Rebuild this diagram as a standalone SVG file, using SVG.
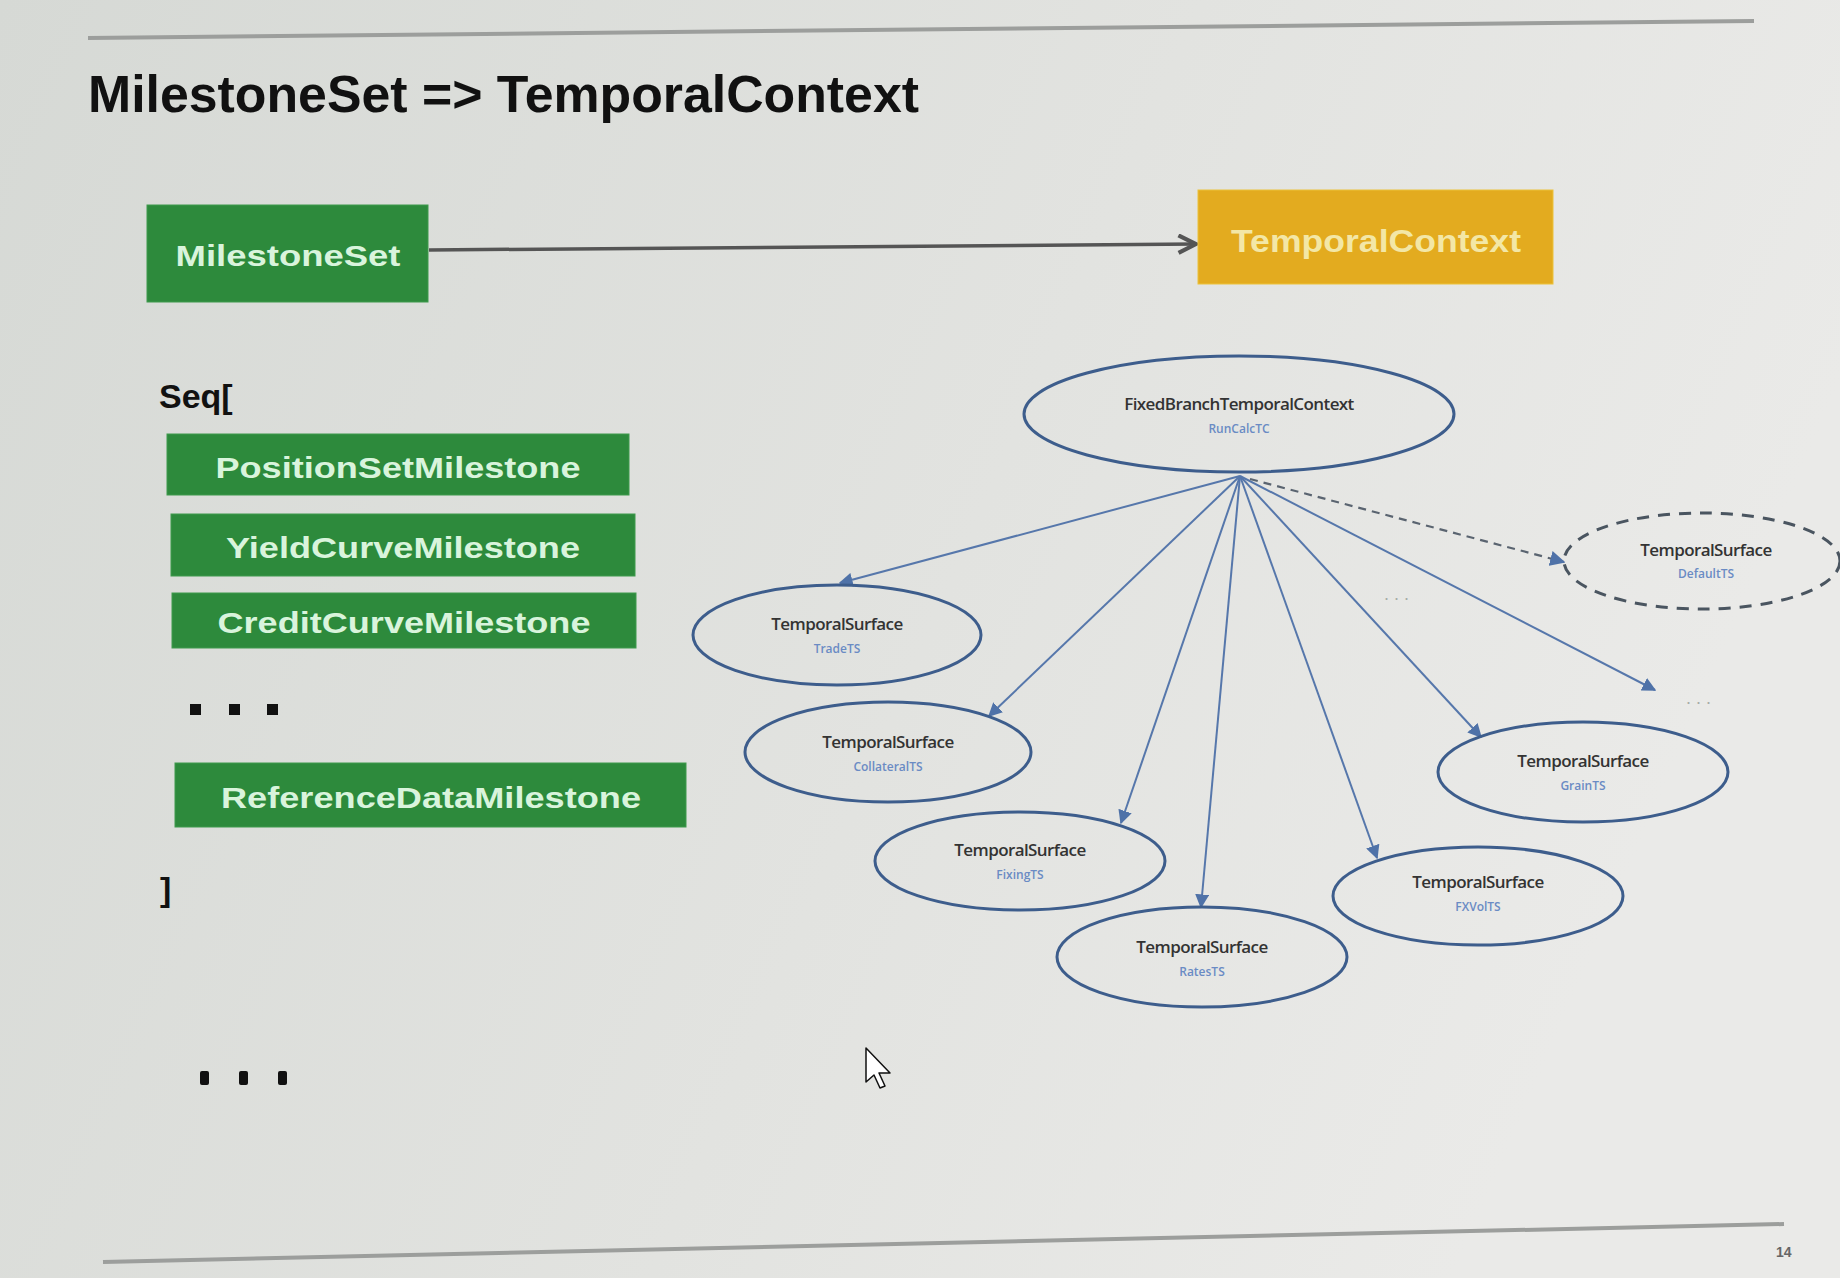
<svg xmlns="http://www.w3.org/2000/svg" width="1840" height="1278" viewBox="0 0 1840 1278">
  <defs>
    <linearGradient id="bg" x1="0" y1="0" x2="1" y2="0.3">
      <stop offset="0" stop-color="#d6d9d5"/>
      <stop offset="0.6" stop-color="#e2e3e0"/>
      <stop offset="1" stop-color="#eaeae8"/>
    </linearGradient>
    <marker id="head" viewBox="0 0 10 10" refX="9" refY="5" markerWidth="7" markerHeight="7" orient="auto" markerUnits="strokeWidth">
      <path d="M0,0 L10,5 L0,10 Z" fill="#4f72a8"/>
    </marker>
    <marker id="vhead" viewBox="0 0 12 12" refX="11" refY="6" markerWidth="6" markerHeight="6" orient="auto" markerUnits="strokeWidth">
      <path d="M1,1 L11,6 L1,11" fill="none" stroke="#555" stroke-width="2.4"/>
    </marker>
    <style>
      .title { font-family: "Liberation Sans", Arial, sans-serif; font-weight: bold; fill: #111; }
      .gbox { fill: #2d8a3c; stroke: #3f9a4c; stroke-width: 1; }
      .gtxt { font-family: "Liberation Sans", Arial, sans-serif; font-weight: bold; font-size: 30px; fill: #d9f4dc; text-anchor: middle; }
      .ell { fill: none; stroke: #3d5d8c; stroke-width: 3; }
      .ell-dash { fill: none; stroke: #4a5560; stroke-width: 3; stroke-dasharray: 12 9; }
      .name { font-family: "Open Sans", "Liberation Sans", sans-serif; font-size: 17px; font-weight: 600; fill: #333; text-anchor: middle; letter-spacing: -0.6px; }
      .sub { font-family: "Open Sans", "Liberation Sans", sans-serif; font-size: 12px; font-weight: 600; fill: #6a8bc4; text-anchor: middle; }
      .edge { fill: none; stroke: #5677ab; stroke-width: 2; marker-end: url(#head); }
      .edge-dash { fill: none; stroke: #5a6470; stroke-width: 2.2; stroke-dasharray: 8 6; marker-end: url(#head); }
      .dots { font-family: "Liberation Sans", Arial, sans-serif; font-size: 18px; fill: #a8aca8; }
      .rule { stroke: #9c9e9c; stroke-width: 4; }
    </style>
  </defs>

  <!-- slide background -->
  <rect x="0" y="0" width="1840" height="1278" fill="url(#bg)"/>

  <!-- header / footer rules -->
  <line class="rule" x1="88" y1="38" x2="1754" y2="21"/>
  <line class="rule" x1="103" y1="1262" x2="1784" y2="1224"/>
  <text x="1776" y="1257" font-family="Liberation Sans, Arial, sans-serif" font-size="14" font-weight="bold" fill="#666">14</text>

  <!-- title -->
  <text class="title" x="88" y="112" font-size="52" textLength="831" lengthAdjust="spacingAndGlyphs">MilestoneSet =&gt; TemporalContext</text>

  <!-- connectors -->
  <g id="connectors">
    <line x1="429" y1="250" x2="1196" y2="244" stroke="#555" stroke-width="3.5" marker-end="url(#vhead)"/>
    <line class="edge" x1="1240" y1="476" x2="840" y2="583"/>
    <line class="edge" x1="1240" y1="476" x2="989" y2="716"/>
    <line class="edge" x1="1240" y1="476" x2="1121" y2="823"/>
    <line class="edge" x1="1240" y1="476" x2="1201" y2="907"/>
    <line class="edge" x1="1240" y1="476" x2="1377" y2="858"/>
    <line class="edge" x1="1240" y1="476" x2="1481" y2="737"/>
    <line class="edge" x1="1240" y1="476" x2="1655" y2="690"/>
    <line class="edge-dash" x1="1250" y1="479" x2="1564" y2="562"/>
  </g>

  <!-- left column: milestone set -->
  <g id="milestone-set">
    <rect class="gbox" x="147" y="205" width="281" height="97"/>
    <text class="gtxt" x="288" y="266" font-size="32" textLength="225" lengthAdjust="spacingAndGlyphs">MilestoneSet</text>
  </g>

  <g id="temporal-context">
    <rect x="1198" y="190" width="355" height="94" fill="#e3ab1f" stroke="#ecc23a" stroke-width="1"/>
    <text x="1376" y="252" font-family="Liberation Sans, Arial, sans-serif" font-weight="bold" font-size="31" fill="#f3e7a6" text-anchor="middle" textLength="290" lengthAdjust="spacingAndGlyphs">TemporalContext</text>
  </g>

  <g id="seq-open">
    <text x="159" y="408" font-family="Liberation Sans, Arial, sans-serif" font-weight="bold" font-size="34" fill="#111">Seq[</text>
  </g>

  <g id="position-set-milestone">
    <rect class="gbox" x="167" y="434" width="462" height="61"/>
    <text class="gtxt" x="398" y="478" textLength="365" lengthAdjust="spacingAndGlyphs">PositionSetMilestone</text>
  </g>
  <g id="yield-curve-milestone">
    <rect class="gbox" x="171" y="514" width="464" height="62"/>
    <text class="gtxt" x="403" y="558" textLength="354" lengthAdjust="spacingAndGlyphs">YieldCurveMilestone</text>
  </g>
  <g id="credit-curve-milestone">
    <rect class="gbox" x="172" y="593" width="464" height="55"/>
    <text class="gtxt" x="404" y="633" textLength="373" lengthAdjust="spacingAndGlyphs">CreditCurveMilestone</text>
  </g>

  <g id="ellipsis-mid" fill="#111">
    <rect x="190" y="704" width="11" height="11"/>
    <rect x="229" y="704" width="11" height="11"/>
    <rect x="267" y="704" width="11" height="11"/>
  </g>

  <g id="reference-data-milestone">
    <rect class="gbox" x="175" y="763" width="511" height="64"/>
    <text class="gtxt" x="431" y="808" textLength="420" lengthAdjust="spacingAndGlyphs">ReferenceDataMilestone</text>
  </g>

  <g id="seq-close">
    <text x="160" y="901" font-family="Liberation Sans, Arial, sans-serif" font-weight="bold" font-size="34" fill="#111">]</text>
  </g>

  <g id="ellipsis-bottom" fill="#111">
    <rect x="200" y="1071" width="9" height="14" rx="2"/>
    <rect x="239" y="1071" width="9" height="14" rx="2"/>
    <rect x="278" y="1071" width="9" height="14" rx="2"/>
  </g>

  <!-- right side: temporal context tree -->
  <g id="root-tc">
    <ellipse class="ell" cx="1239" cy="414" rx="215" ry="58"/>
    <text class="name" x="1239" y="410">FixedBranchTemporalContext</text>
    <text class="sub" x="1239" y="433">RunCalcTC</text>
  </g>

  <g id="trade-ts">
    <ellipse class="ell" cx="837" cy="635" rx="144" ry="50"/>
    <text class="name" x="837" y="630">TemporalSurface</text>
    <text class="sub" x="837" y="653">TradeTS</text>
  </g>
  <g id="collateral-ts">
    <ellipse class="ell" cx="888" cy="752" rx="143" ry="50"/>
    <text class="name" x="888" y="748">TemporalSurface</text>
    <text class="sub" x="888" y="771">CollateralTS</text>
  </g>
  <g id="fixing-ts">
    <ellipse class="ell" cx="1020" cy="861" rx="145" ry="49"/>
    <text class="name" x="1020" y="856">TemporalSurface</text>
    <text class="sub" x="1020" y="879">FixingTS</text>
  </g>
  <g id="rates-ts">
    <ellipse class="ell" cx="1202" cy="957" rx="145" ry="50"/>
    <text class="name" x="1202" y="953">TemporalSurface</text>
    <text class="sub" x="1202" y="976">RatesTS</text>
  </g>
  <g id="fxvol-ts">
    <ellipse class="ell" cx="1478" cy="896" rx="145" ry="49"/>
    <text class="name" x="1478" y="888">TemporalSurface</text>
    <text class="sub" x="1478" y="911">FXVolTS</text>
  </g>
  <g id="grain-ts">
    <ellipse class="ell" cx="1583" cy="772" rx="145" ry="50"/>
    <text class="name" x="1583" y="767">TemporalSurface</text>
    <text class="sub" x="1583" y="790">GrainTS</text>
  </g>
  <g id="default-ts">
    <ellipse class="ell-dash" cx="1702" cy="561" rx="138" ry="48"/>
    <text class="name" x="1706" y="556">TemporalSurface</text>
    <text class="sub" x="1706" y="578">DefaultTS</text>
  </g>

  <g id="more-surfaces">
    <text class="dots" x="1384" y="600">. . .</text>
    <text class="dots" x="1686" y="704">. . .</text>
  </g>

  <!-- pointer -->
  <path d="M866,1048 L866,1082 L874,1075 L880,1088 L885,1086 L879,1073 L890,1073 Z" fill="#fff" stroke="#111" stroke-width="1.5" stroke-linejoin="round"/>
</svg>
